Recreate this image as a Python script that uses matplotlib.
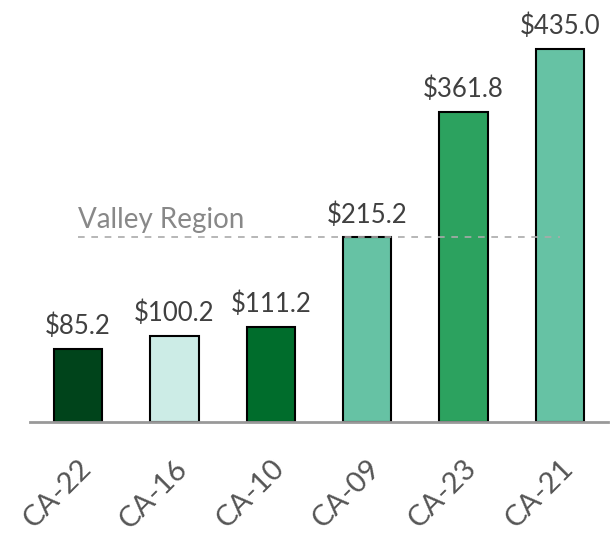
import matplotlib.pyplot as plt

# Data
districts = ['CA-22', 'CA-16', 'CA-10', 'CA-09', 'CA-23', 'CA-21']
values = [85.2, 100.2, 111.2, 215.2, 361.8, 435.0]
bar_colors = ['#00441b', '#ccece6', '#006d2c', '#66c2a4', '#2ca25f', '#66c2a4']
valley_level = 215.2
valley_label = 'Valley Region'

plt.rcParams['font.family'] = ['Lato', 'DejaVu Sans']

fig = plt.figure(figsize=(6.13, 5.35), dpi=100)
ax = fig.add_axes([30 / 613, (535 - 422) / 535, 578 / 613, 422 / 535])

x = range(len(districts))
bars = ax.bar(x, values, width=0.5, color=bar_colors, edgecolor='black', linewidth=1.5, zorder=3)

# value labels above each bar
for b, v in zip(bars, values):
    ax.annotate(f'${v:.1f}', (b.get_x() + b.get_width() / 2, v), xytext=(0, 7),
                textcoords='offset points', ha='center', va='bottom',
                fontsize=18.5, color='#404040')

# dashed reference line
ax.plot([0, len(districts) - 1], [valley_level, valley_level], linestyle=(0, (4, 4)),
        color='#aaaaaa', linewidth=1.2, zorder=4)
ax.text(0, valley_level + 5, valley_label, ha='left', va='bottom', fontsize=20, color='#888888')

ax.set_xlim(-0.5, len(districts) - 0.5)
ax.set_ylim(0, 492)

for side in ['top', 'right', 'left']:
    ax.spines[side].set_visible(False)
ax.spines['bottom'].set_color('#999999')
ax.spines['bottom'].set_linewidth(2)
ax.spines['bottom'].set_zorder(4)

ax.set_yticks([])
ax.set_xticks(list(x))
ax.set_xticklabels(districts, rotation=45, ha='right', rotation_mode='anchor',
                   fontsize=21, color='#555555')
ax.tick_params(axis='x', length=0, pad=24)

fig.savefig('out.png', dpi=100)
